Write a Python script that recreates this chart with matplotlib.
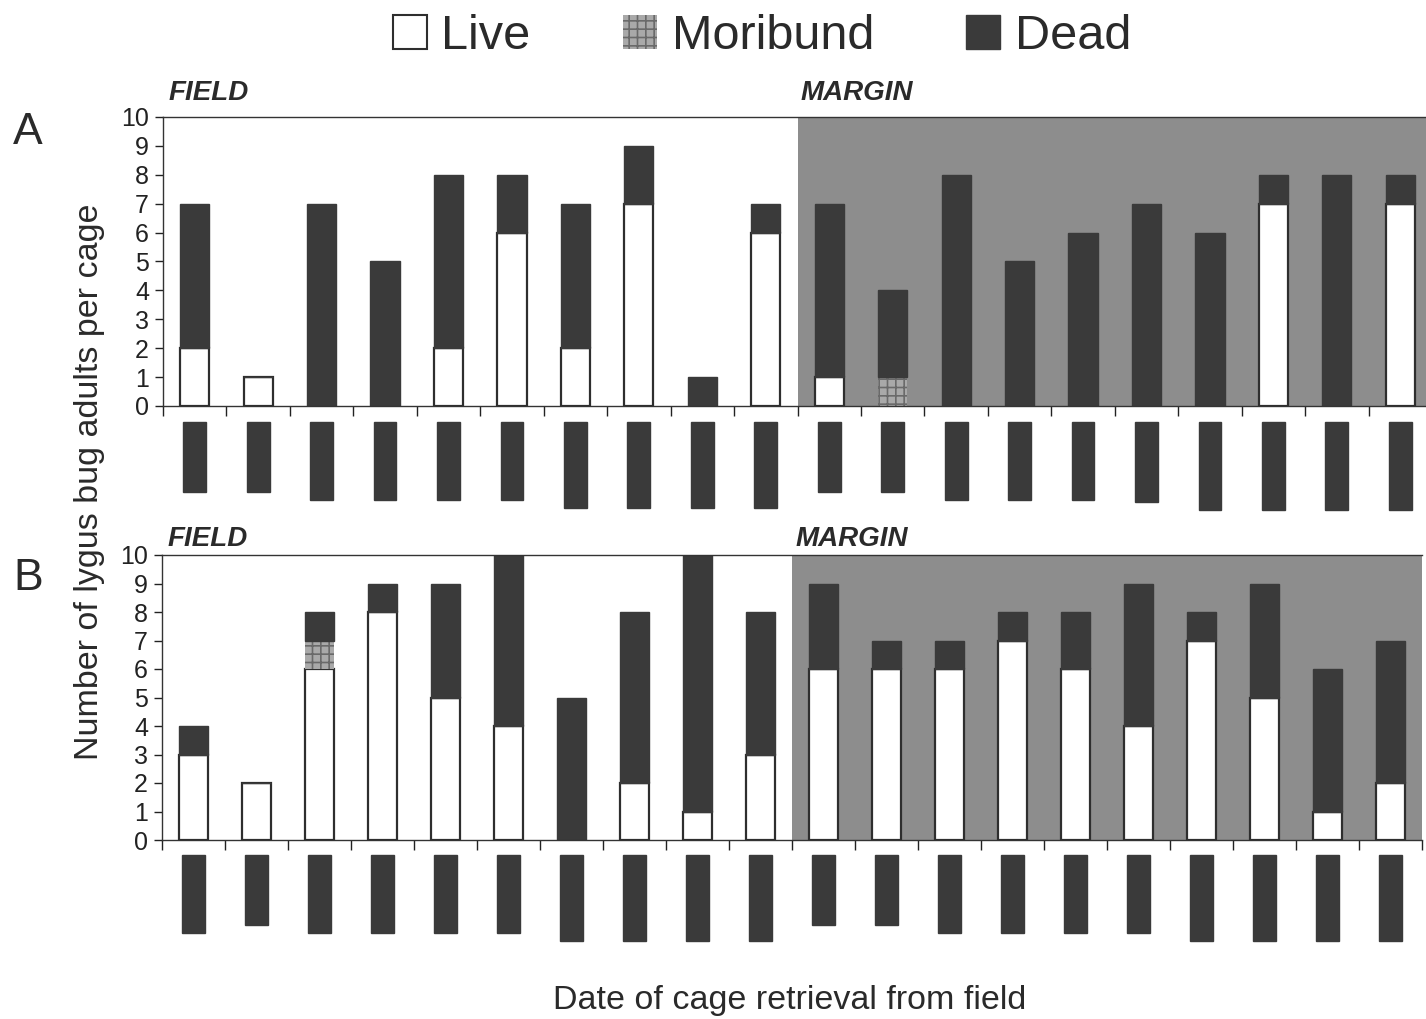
import numpy as np
import matplotlib
matplotlib.use("Agg")
from matplotlib import pyplot as plt
from matplotlib.patches import Patch, Rectangle
from matplotlib.transforms import blended_transform_factory

plt.rcParams["font.family"] = ["Liberation Sans", "DejaVu Sans"]
plt.rcParams["hatch.linewidth"] = 1.2

# 20 cages: first 10 in the field, last 10 in the margin
cages = np.arange(20)

live_a = [2, 1, 0, 0, 2, 6, 2, 7, 0, 6, 1, 0, 0, 0, 0, 0, 0, 7, 0, 7]
mori_a = [0, 0, 0, 0, 0, 0, 0, 0, 0, 0, 0, 1, 0, 0, 0, 0, 0, 0, 0, 0]
dead_a = [5, 0, 7, 5, 6, 2, 5, 2, 1, 1, 6, 3, 8, 5, 6, 7, 6, 1, 8, 1]

live_b = [3, 2, 6, 8, 5, 4, 0, 2, 1, 3, 6, 6, 6, 7, 6, 4, 7, 5, 1, 2]
mori_b = [0, 0, 1, 0, 0, 0, 0, 0, 0, 0, 0, 0, 0, 0, 0, 0, 0, 0, 0, 0]
dead_b = [1, 0, 1, 1, 4, 6, 5, 6, 9, 5, 3, 1, 1, 1, 2, 5, 1, 4, 5, 5]

# date labels are blacked out in the source; lengths of the blocks (px)
date_len_a = [70, 70, 78, 78, 78, 78, 86, 86, 86, 86, 70, 70, 78, 78, 78, 80, 88, 88, 88, 88]
date_len_b = [78, 70, 78, 78, 78, 78, 86, 86, 86, 86, 70, 70, 78, 78, 78, 78, 86, 86, 86, 86]

W, H = 1426, 1019
DARK = "#3a3a3a"
GRAY_BG = "#8d8d8d"
MORI = "#a9a9a9"
EDGE = "#2e2e2e"


def panel(ax, live, mori, dead, date_len, top_px, head_px):
    live = np.array(live)
    mori = np.array(mori)
    dead = np.array(dead)
    ax.axvspan(9.5, 19.5, color=GRAY_BG, zorder=0, lw=0)
    w = 0.46
    ax.bar(cages, live, w, color="white", edgecolor=EDGE, lw=1.6, zorder=2)
    ax.bar(cages, mori, w, bottom=live, color=MORI, edgecolor="#6a6a6a",
           hatch="++", lw=0, zorder=2)
    ax.bar(cages, dead, w, bottom=live + mori, color=DARK, edgecolor=DARK,
           lw=1.0, zorder=2)

    ax.set_xlim(-0.5, 19.5)
    ax.set_ylim(0, 10)
    ax.set_yticks(range(11))
    ax.tick_params(axis="y", labelsize=18, length=6, width=1, pad=4,
                   colors="#222222")
    ax.set_xticks([])
    ax.set_xticks(np.arange(-0.5, 20, 1), minor=True)
    ax.tick_params(axis="x", which="minor", length=7, width=1, colors="#222222")
    for s in ax.spines.values():
        s.set_color("#333333")
        s.set_linewidth(1.0)
    ax.spines["right"].set_visible(False)

    trans = blended_transform_factory(ax.transData, ax.figure.transFigure)
    for i, ln in enumerate(date_len):
        ax.add_patch(Rectangle((i - 0.18, 1 - (top_px + ln) / H), 0.36, ln / H,
                               transform=trans, color=DARK, clip_on=False))

    ax.text(-0.42, 1 - head_px / H, "FIELD", transform=trans, fontsize=20,
            fontweight="bold", style="italic", color="#2a2a2a", va="center")
    ax.text(9.55, 1 - head_px / H, "MARGIN", transform=trans, fontsize=20,
            fontweight="bold", style="italic", color="#2a2a2a", va="center")


fig = plt.figure(figsize=(W / 100, H / 100), dpi=100)
ax_a = fig.add_axes([163 / W, 1 - 406 / H, (1432 - 163) / W, 289 / H])
ax_b = fig.add_axes([162 / W, 1 - 840 / H, (1422 - 162) / W, 285 / H])

panel(ax_a, live_a, mori_a, dead_a, date_len_a, 422, 93)
panel(ax_b, live_b, mori_b, dead_b, date_len_b, 855, 539)

fig.text(28 / W, 1 - 133 / H, "A", fontsize=32, color="#2a2a2a",
         ha="center", va="center")
fig.text(28 / W, 1 - 578 / H, "B", fontsize=32, color="#2a2a2a",
         ha="center", va="center")

fig.text(90 / W, 1 - 482 / H, "Number of lygus bug adults per cage",
         rotation=90, fontsize=24.5, color="#2a2a2a", ha="center", va="center")
fig.text(790 / W, 1 - 1001 / H, "Date of cage retrieval from field",
         fontsize=24.5, color="#2a2a2a", ha="center", va="center")

handles = [
    Patch(facecolor="white", edgecolor=EDGE, lw=1.5),
    Patch(facecolor=MORI, edgecolor="#6a6a6a", hatch="++", lw=0),
    Patch(facecolor=DARK, edgecolor=DARK),
]
leg = fig.legend(handles, ["Live", "Moribund", "Dead"], loc="upper center",
                 bbox_to_anchor=(762 / W, 1.029), ncol=3, frameon=False,
                 fontsize=35, handlelength=0.7, handleheight=0.7,
                 columnspacing=1.9, handletextpad=0.3)
for t in leg.get_texts():
    t.set_color("#2a2a2a")

fig.savefig("out.png", dpi=100)
